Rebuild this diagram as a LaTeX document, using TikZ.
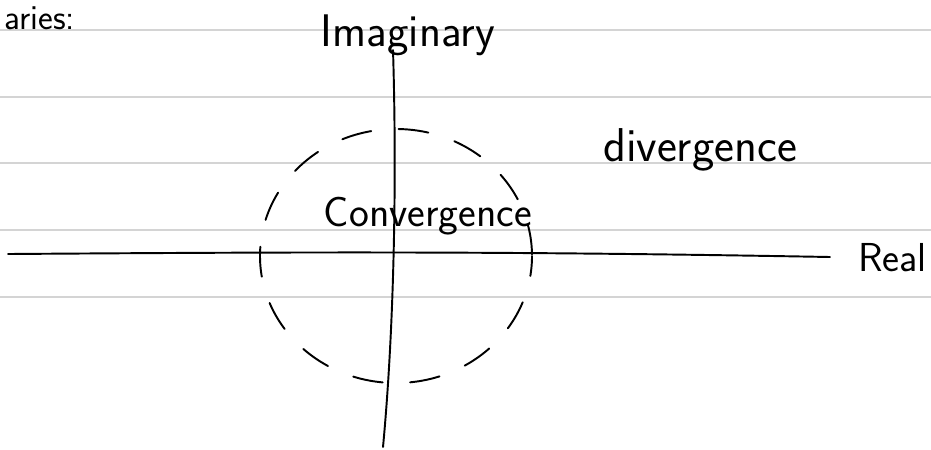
\documentclass[tikz,border=0pt]{standalone}
\usepackage{amsmath}
\usepackage{tikz}

\begin{document}
\begin{tikzpicture}[x=0.2mm,y=-0.2mm,
  rule/.style={draw=black!17,line width=0.8pt},
  axis/.style={draw=black,line width=1.1pt,line cap=round},
  region/.style={draw=black,line width=1.1pt,line cap=round,dash pattern=on 6mm off 5.5mm},
  lbl/.style={inner sep=0pt,font=\sffamily\fontsize{#1}{#1}\selectfont}]
  \useasboundingbox (0,0) rectangle (931,449);
  \foreach \y in {30,97,163,230,297} {
    \draw[rule] (0,\y) -- (931,\y);
  }
  \coordinate (rl) at (8,254);
  \coordinate (rr) at (830,257);
  \coordinate (it) at (393,50);
  \coordinate (ib) at (383,447);
  \coordinate (o) at (396,256);
  \draw[axis] (rl) .. controls (300,252) and (500,251) .. (rr);
  \draw[axis] (it) .. controls (397,180) and (394,330) .. (ib);
  \draw[region,dash phase=2mm] (o) ellipse[x radius=136,y radius=127];
  \node[lbl=20,anchor=base west] (aries) at (4,29) {aries:};
  \node[lbl=26,anchor=base] (imag) at (408,46) {Imaginary};
  \node[lbl=23,anchor=base west] (real) at (858,271) {Real};
  \node[lbl=27,anchor=base] (div) at (700,161) {divergence};
  \node[lbl=24,anchor=base] (conv) at (428,226) {Convergence};
\end{tikzpicture}
\end{document}
